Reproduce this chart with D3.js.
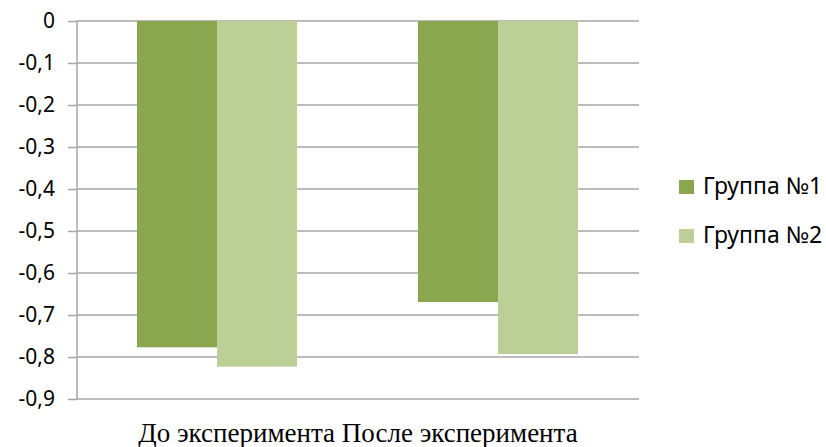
<!DOCTYPE html>
<meta charset="utf-8">
<style>
    body { margin: 0; background: #fff; }
    .tick text { font-family: "Noto Sans", "Open Sans", sans-serif; font-size: 21px; fill: #000; }
    .legend text { font-family: "Noto Sans", "Open Sans", sans-serif; font-size: 23px; fill: #000; }
    .cat { font-family: "Liberation Serif", "Times New Roman", serif; font-size: 27px; fill: #000; }
</style>
<body>
<script src="https://d3js.org/d3.v7.min.js"></script>
<script>
    var categories = ["До эксперимента", "После эксперимента"];
    var seriesNames = ["Группа №1", "Группа №2"];
    var group1 = [-0.777, -0.669];
    var group2 = [-0.823, -0.793];
    var yTicks = [0, -0.1, -0.2, -0.3, -0.4, -0.5, -0.6, -0.7, -0.8, -0.9];
    var colors = ["#8aa64f", "#bbcf96"];

    var width = 826, height = 447;
    var plotLeft = 77, plotRight = 639, plotTop = 21, plotBottom = 399;

    var svg = d3.select("body").append("svg")
        .attr("width", width)
        .attr("height", height);

    var x = d3.scaleBand()
        .domain(categories)
        .range([plotLeft, plotRight]);

    var xs = d3.scaleBand()
        .domain(seriesNames)
        .range([60, 220]);

    var y = d3.scaleLinear()
        .domain([0, -0.9])
        .range([plotTop, plotBottom]);

    var fmt = function(d) { return d === 0 ? "0" : d3.format(".1f")(d).replace(".", ",").replace("−", "-"); };

    // grid + y axis
    var yAxis = svg.append("g")
        .attr("transform", "translate(" + plotLeft + ",0)")
        .call(d3.axisLeft(y).tickValues(yTicks).tickSize(9).tickPadding(13).tickFormat(fmt));
    yAxis.select(".domain").remove();
    yAxis.selectAll(".tick line").attr("stroke", "#a6a6a6").attr("stroke-width", 1.5);

    svg.append("g").selectAll("line")
        .data(yTicks)
        .enter().append("line")
        .attr("x1", plotLeft).attr("x2", plotRight)
        .attr("y1", function(d) { return y(d); })
        .attr("y2", function(d) { return y(d); })
        .attr("stroke", "#a6a6a6")
        .attr("stroke-width", 1.5);

    svg.append("line")
        .attr("x1", plotLeft).attr("x2", plotLeft)
        .attr("y1", plotTop).attr("y2", plotBottom)
        .attr("stroke", "#a6a6a6")
        .attr("stroke-width", 1.5);

    // bars
    var rows = categories.map(function(c, i) {
        return { cat: c, vals: [group1[i], group2[i]] };
    });

    var g = svg.append("g").selectAll("g")
        .data(rows)
        .enter().append("g")
        .attr("transform", function(d) { return "translate(" + x(d.cat) + ",0)"; });

    g.selectAll("rect")
        .data(function(d) { return d.vals.map(function(v, j) { return { name: seriesNames[j], v: v, j: j }; }); })
        .enter().append("rect")
        .attr("x", function(d) { return xs(d.name); })
        .attr("width", xs.bandwidth())
        .attr("y", y(0))
        .attr("height", function(d) { return y(d.v) - y(0); })
        .attr("fill", function(d) { return colors[d.j]; });

    // category labels run together in one centred line
    var mid = (plotLeft + plotRight) / 2;
    svg.append("text").attr("class", "cat")
        .attr("x", mid).attr("y", 442)
        .attr("text-anchor", "middle")
        .text(categories.join(" "));

    // legend
    var legend = svg.append("g").attr("class", "legend")
        .selectAll("g")
        .data(seriesNames)
        .enter().append("g")
        .attr("transform", function(d, i) { return "translate(679," + (180 + i * 49) + ")"; });
    legend.append("rect")
        .attr("width", 15).attr("height", 14)
        .attr("fill", function(d, i) { return colors[i]; });
    legend.append("text")
        .attr("x", 24).attr("y", 14)
        .text(function(d) { return d; });
</script>
</body>
</html>
